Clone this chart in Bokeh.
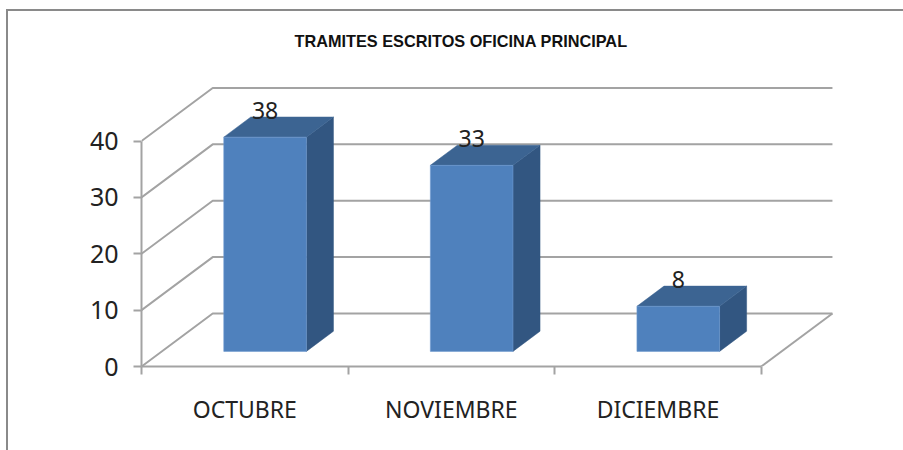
from bokeh.plotting import figure
from bokeh.embed import file_html
from bokeh.resources import INLINE
from bokeh.models import FixedTicker, LinearAxis, Range1d, Title
from bokeh.core.properties import value

# Data
categories = ["OCTUBRE", "NOVIEMBRE", "DICIEMBRE"]
values = [38, 33, 8]
y_ticks = [0, 10, 20, 30, 40]
title_text = "TRAMITES ESCRITOS OFICINA PRINCIPAL"

# Oblique projection, in axis units
PX_CAT, PX_VAL = 206.0, 5.6        # pixels per category / per value unit
DEPTH_X, DEPTH_Y = 71.0 / PX_CAT, 52.7 / PX_VAL
Z0, Z1 = 0.285, 0.665               # bar depth span
HALF = 0.2


def proj(x, v, z):
    return x + DEPTH_X * z, v + DEPTH_Y * z


# Canvas sits at (8, 11) in the window once its CSS border is counted
W, H = 895, 439
LEFT, TOP, RIGHT, BOTTOM = 133, 53, 839, 353
x_end = (RIGHT - LEFT) / PX_CAT
y_end = (BOTTOM - TOP) / PX_VAL

p = figure(width=W, height=H, output_backend="svg", toolbar_location=None,
           x_range=Range1d(0, x_end), y_range=Range1d(0, y_end),
           x_axis_location=None, y_axis_location=None,
           min_border_left=LEFT, min_border_right=W - RIGHT,
           min_border_top=TOP, min_border_bottom=H - BOTTOM,
           background_fill_color="white", border_fill_color="white")
p.styles = {"position": "absolute", "left": "6px", "top": "9px",
            "box-sizing": "content-box",
            "border-left": "2px solid #8a8a8a", "border-top": "2px solid #8a8a8a"}
p.grid.visible = False
p.outline_line_color = None

GRID = "#a3a3a3"
n = len(categories)

# Walls: gridlines running back and then along the rear wall
xs, ys = [], []
for t in y_ticks:
    a = proj(0, t, 0)
    b = proj(0, t, 1)
    c = proj(n, t, 1)
    xs.append([a[0], b[0], c[0]])
    ys.append([a[1], b[1], c[1]])
# floor's right edge
a, b = proj(n, 0, 0), proj(n, 0, 1)
xs.append([a[0], b[0]])
ys.append([a[1], b[1]])
p.multi_line(xs, ys, line_color=GRID, line_width=2)

# 3-D bars
front, side, top = ([], []), ([], []), ([], [])
lx, ly, lt = [], [], []
for i, v in enumerate(values):
    x0, x1 = i + 0.5 - HALF, i + 0.5 + HALF
    f = [proj(x0, 0, Z0), proj(x1, 0, Z0), proj(x1, v, Z0), proj(x0, v, Z0)]
    s = [proj(x1, 0, Z0), proj(x1, 0, Z1), proj(x1, v, Z1), proj(x1, v, Z0)]
    u = [proj(x0, v, Z0), proj(x1, v, Z0), proj(x1, v, Z1), proj(x0, v, Z1)]
    for store, poly in ((front, f), (side, s), (top, u)):
        store[0].append([q[0] for q in poly])
        store[1].append([q[1] for q in poly])
    c = proj(i + 0.5, v, Z0)
    lx.append(c[0])
    ly.append(c[1])
    lt.append(str(v))

p.patches(side[0], side[1], fill_color="#325681", line_color="#325681", line_width=0.5)
p.patches(top[0], top[1], fill_color="#3c6492", line_color="#3c6492", line_width=0.5)
p.patches(front[0], front[1], fill_color="#4f81bd", line_color="#6f9bd0", line_width=0.6)

p.text(x=lx, y=ly, text=lt, text_font=value("Noto Sans"), text_font_size="23px",
       text_color="#222222", text_align="center", text_baseline="middle", y_offset=-27)

# Axes
yax = LinearAxis(ticker=FixedTicker(ticks=y_ticks), bounds=(0, 40))
yax.axis_line_color = GRID
yax.axis_line_width = 2
yax.major_tick_line_color = GRID
yax.major_tick_line_width = 2
yax.major_tick_out = 8
yax.major_tick_in = 0
yax.minor_tick_line_color = None
yax.major_label_text_font = "Noto Sans"
yax.major_label_text_font_size = "25px"
yax.major_label_text_color = "#222222"
yax.major_label_standoff = 15
p.add_layout(yax, "left")

centers = [i + 0.5 for i in range(n)]
xax = LinearAxis(ticker=FixedTicker(ticks=centers, minor_ticks=list(range(n + 1))), bounds=(0, n))
xax.major_label_overrides = {c: name for c, name in zip(centers, categories)}
xax.axis_line_color = GRID
xax.axis_line_width = 2
xax.major_tick_line_color = None
xax.major_tick_out = 0
xax.major_tick_in = 0
xax.minor_tick_line_color = GRID
xax.minor_tick_line_width = 2
xax.minor_tick_out = 8
xax.minor_tick_in = 0
xax.major_label_text_font = "Noto Sans"
xax.major_label_text_font_size = "23px"
xax.major_label_text_color = "#222222"
xax.major_label_standoff = 18
p.add_layout(xax, "below")

# Title
ttl = Title(text=title_text, text_font="Liberation Sans", text_font_size="16.3px",
            text_font_style="bold", text_color="#111111", align="left", offset=153,
            standoff=29)
p.add_layout(ttl, "above")

open("out.html", "w").write(file_html(p, INLINE))
